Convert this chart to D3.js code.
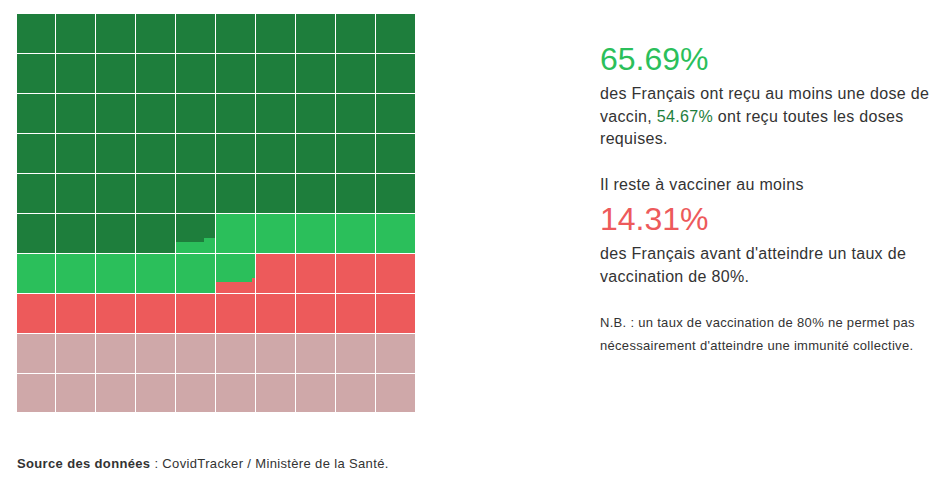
<!DOCTYPE html>
<html>
<head>
<meta charset="utf-8">
<script src="https://cdn.jsdelivr.net/npm/d3@7"></script>
<style>
  html, body { margin: 0; padding: 0; background: #fff; }
  svg { display: block; font-family: "Liberation Sans", Arial, sans-serif; }
</style>
</head>
<body>
<div id="chart"></div>
<script>
"use strict";

// Share of the population, in %, cumulated from the top-left of the waffle
var segments = ["Toutes les doses", "Au moins une dose", "Reste à vacciner (80%)", "Au-delà de 80%"];
var segmentValues = [54.67, 11.02, 14.31, 20.00];
var segmentColors = ["#1e7e3c", "#2bbf5b", "#ed5a5b", "#cfa8a9"];

var firstDose = "65.69%";
var fullDose = "54.67%";
var remaining = "14.31%";

var width = 943,
    height = 481,
    cells = 10,      // 10 x 10 cells, one per percent
    units = 10;      // each cell split in 10 x 10 sub-units

var svg = d3.select("#chart").append("svg")
    .attr("width", width)
    .attr("height", height);

var x = d3.scaleLinear().domain([0, cells]).range([15.5, 415.5]),
    y = d3.scaleLinear().domain([0, cells]).range([13.5, 413.5]);

svg.append("clipPath").attr("id", "waffle-clip")
  .append("rect")
    .attr("x", 17).attr("y", 14)
    .attr("width", 398).attr("height", 398);

var waffle = svg.append("g").attr("clip-path", "url(#waffle-clip)");

// Build the rects : for each segment and each cell, the covered sub-units
var rects = [];
var start = 0;
segmentValues.forEach(function (v, si) {
    var s = Math.round(start * 100),
        e = Math.round((start + v) * 100);
    start += v;
    for (var c = 0; c < cells * cells; c++) {
        var lo = Math.max(s, c * 100) - c * 100,
            hi = Math.min(e, c * 100 + 100) - c * 100;
        if (hi <= lo) continue;
        var col = c % cells, row = Math.floor(c / cells);
        var push = function (u0, u1, r0, r1) {
            rects.push({
                seg: si,
                x0: col + u0 / units, x1: col + u1 / units,
                y0: row + r0 / units, y1: row + r1 / units
            });
        };
        var rFirst = Math.floor(lo / units),
            rLast = Math.floor((hi - 1) / units);
        if (rFirst === rLast) {
            push(lo % units, (hi - 1) % units + 1, rFirst, rFirst + 1);
            continue;
        }
        var midStart = rFirst, midEnd = rLast + 1;
        if (lo % units !== 0) {
            push(lo % units, units, rFirst, rFirst + 1);
            midStart = rFirst + 1;
        }
        if (hi % units !== 0) {
            push(0, hi % units, rLast, rLast + 1);
            midEnd = rLast;
        }
        if (midEnd > midStart) push(0, units, midStart, midEnd);
    }
});

waffle.selectAll("rect.unit")
    .data(rects)
  .enter().append("rect")
    .attr("class", "unit")
    .attr("x", function (d) { return x(d.x0); })
    .attr("y", function (d) { return y(d.y0); })
    .attr("width", function (d) { return x(d.x1) - x(d.x0); })
    .attr("height", function (d) { return y(d.y1) - y(d.y0); })
    .attr("fill", function (d) { return segmentColors[d.seg]; })
    .attr("shape-rendering", "crispEdges");

// White separators between the cells
var inner = d3.range(1, cells);
waffle.selectAll("line.v")
    .data(inner)
  .enter().append("line")
    .attr("x1", function (d) { return x(d); })
    .attr("x2", function (d) { return x(d); })
    .attr("y1", y(0)).attr("y2", y(cells))
    .attr("stroke", "#fff").attr("stroke-width", 1);
waffle.selectAll("line.h")
    .data(inner)
  .enter().append("line")
    .attr("y1", function (d) { return y(d); })
    .attr("y2", function (d) { return y(d); })
    .attr("x1", x(0)).attr("x2", x(cells))
    .attr("stroke", "#fff").attr("stroke-width", 1);

// Text block on the right
var tx = 600;
var text = svg.append("g").attr("fill", "#333");

text.append("text")
    .attr("x", tx).attr("y", 70)
    .attr("font-size", 32)
    .attr("fill", segmentColors[1])
    .text(firstDose);

var l1 = text.append("text").attr("font-size", 16).attr("letter-spacing", 0.32);
l1.append("tspan").attr("x", tx).attr("y", 99).text("des Français ont reçu au moins une dose de");
l1.append("tspan").attr("x", tx).attr("y", 121.5).text("vaccin, ");
l1.append("tspan").attr("fill", segmentColors[0]).text(fullDose);
l1.append("tspan").text(" ont reçu toutes les doses");
l1.append("tspan").attr("x", tx).attr("y", 144).text("requises.");

text.append("text")
    .attr("x", tx).attr("y", 190)
    .attr("font-size", 16).attr("letter-spacing", 0.32)
    .text("Il reste à vacciner au moins");

text.append("text")
    .attr("x", tx).attr("y", 230)
    .attr("font-size", 32)
    .attr("fill", segmentColors[2])
    .text(remaining);

var l2 = text.append("text").attr("font-size", 16).attr("letter-spacing", 0.32);
l2.append("tspan").attr("x", tx).attr("y", 259).text("des Français avant d'atteindre un taux de");
l2.append("tspan").attr("x", tx).attr("y", 281.5).text("vaccination de 80%.");

var nb = text.append("text").attr("font-size", 13).attr("letter-spacing", 0.3);
nb.append("tspan").attr("x", tx).attr("y", 327).text("N.B. : un taux de vaccination de 80% ne permet pas");
nb.append("tspan").attr("x", tx).attr("y", 350).text("nécessairement d'atteindre une immunité collective.");

// Source
var src = svg.append("text")
    .attr("x", 17).attr("y", 468)
    .attr("font-size", 13)
    .attr("letter-spacing", 0.35)
    .attr("fill", "#333");
src.append("tspan").attr("font-weight", "bold").text("Source des données");
src.append("tspan").text(" : CovidTracker / Ministère de la Santé.");
</script>
</body>
</html>
